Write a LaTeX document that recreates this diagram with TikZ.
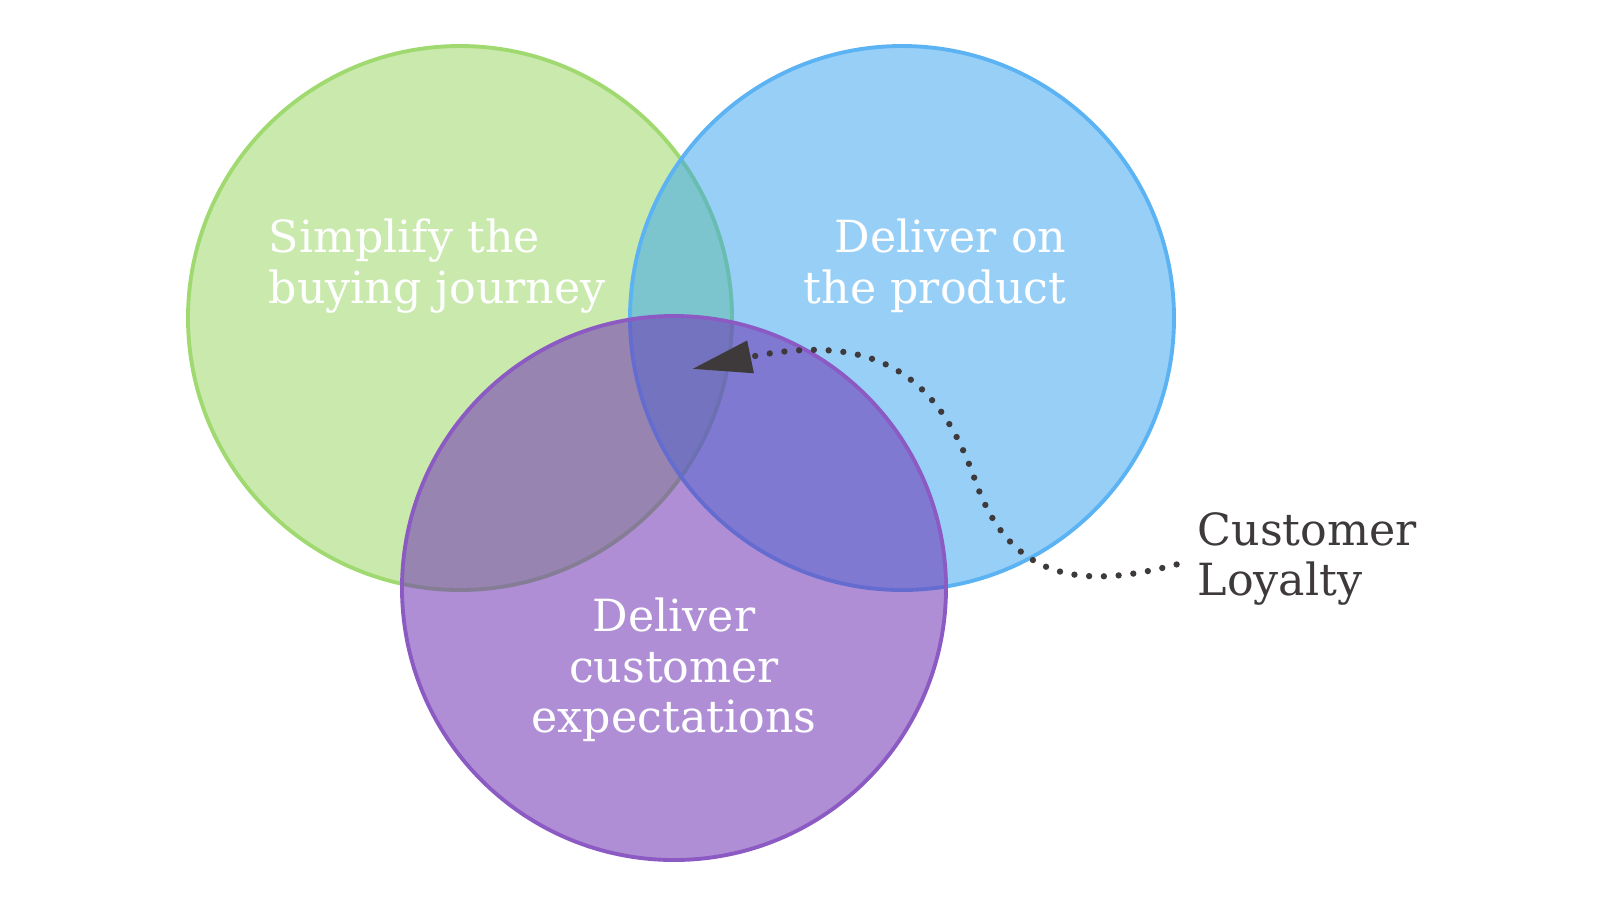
\documentclass[tikz,border=0pt]{standalone}
\usepackage{fontspec}
\setmainfont{DejaVu Serif}
\usetikzlibrary{arrows.meta}
\definecolor{leafgreen}{RGB}{120,200,50}
\definecolor{skyblue}{RGB}{50,160,240}
\definecolor{grape}{RGB}{110,50,180}
\definecolor{inkgray}{RGB}{62,58,60}
\begin{document}
\begin{tikzpicture}[x=0.01cm, y=-0.01cm]
\tikzset{
  venn/.style={draw, line width=1.1pt},
  label/.style={font=\fontsize{12.6}{14.4}\selectfont, text=white, inner sep=0pt},
}
\useasboundingbox (0,0) rectangle (1600,914);
% circles
\draw[venn, draw=leafgreen!70, fill=leafgreen, fill opacity=0.4] (460,318) circle (272);
\draw[venn, draw=skyblue!80, fill=skyblue, fill opacity=0.5] (902,318) circle (272);
\draw[venn, draw=grape!80, fill=grape, fill opacity=0.55] (674,588) circle (272);
% texts
\node[label, anchor=west, align=left](simplify) at (268,266) {Simplify the\\buying journey};
\node[label, anchor=east, align=right](product) at (1067,266) {Deliver on\\the product};
\node[label, align=center](expect) at (674,670) {Deliver\\customer\\expectations};
\node[label, anchor=west, align=left, text=inkgray](loyalty) at (1197,559) {Customer\\Loyalty};
% connector
\draw[inkgray, line width=1.8pt, line cap=round, dash pattern=on 0pt off 4.2pt,
      shorten <=6pt, -{Triangle[length=17pt, width=9pt]}]
  (loyalty.west) .. controls (1080,590) and (1010,580) .. (975,480)
  .. controls (940,380) and (880,330) .. (692,369);
\end{tikzpicture}
\end{document}
